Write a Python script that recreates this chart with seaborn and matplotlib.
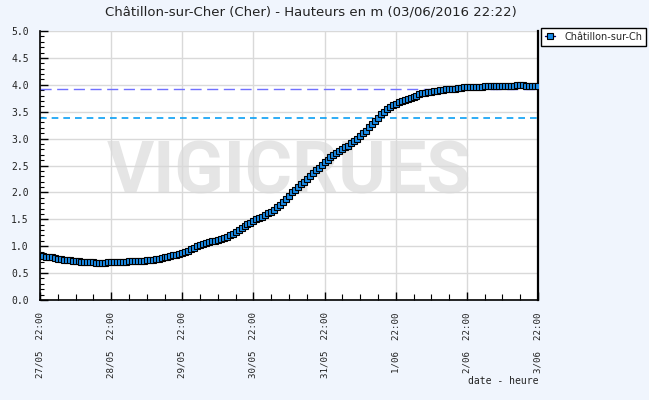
import pandas as pd
import numpy as np
import seaborn as sns
import matplotlib.pyplot as plt
import matplotlib.dates as mdates
from matplotlib.ticker import MultipleLocator, FuncFormatter, FormatStrFormatter

# hauteurs horaires (m), depuis le 27/05/2016 22:00
hauteurs = [
    0.82, 0.81, 0.80, 0.80, 0.79, 0.78, 0.77, 0.76, 0.75, 0.74, 0.74, 0.73,
    0.72, 0.72, 0.71, 0.71, 0.70, 0.70, 0.70, 0.69, 0.69, 0.69, 0.69, 0.70,
    0.70, 0.70, 0.70, 0.71, 0.71, 0.71, 0.72, 0.72, 0.72, 0.73, 0.73, 0.73,
    0.74, 0.75, 0.75, 0.76, 0.77, 0.78, 0.79, 0.80, 0.82, 0.83, 0.84, 0.86,
    0.87, 0.89, 0.91, 0.94, 0.97, 1.00, 1.03, 1.05, 1.06, 1.08, 1.09, 1.10,
    1.11, 1.13, 1.15, 1.17, 1.20, 1.23, 1.27, 1.30, 1.34, 1.37, 1.41, 1.44,
    1.47, 1.50, 1.52, 1.55, 1.58, 1.61, 1.64, 1.68, 1.72, 1.77, 1.82, 1.88,
    1.94, 2.00, 2.05, 2.10, 2.15, 2.20, 2.25, 2.31, 2.36, 2.41, 2.46, 2.51,
    2.56, 2.61, 2.65, 2.69, 2.73, 2.77, 2.80, 2.84, 2.87, 2.91, 2.95, 3.00,
    3.05, 3.10, 3.15, 3.21, 3.27, 3.33, 3.39, 3.45, 3.50, 3.55, 3.59, 3.62,
    3.65, 3.68, 3.70, 3.72, 3.74, 3.76, 3.78, 3.80, 3.82, 3.84, 3.85, 3.86,
    3.87, 3.88, 3.89, 3.90, 3.91, 3.92, 3.92, 3.93, 3.93, 3.94, 3.94, 3.95,
    3.95, 3.95, 3.96, 3.96, 3.96, 3.96, 3.97, 3.97, 3.97, 3.97, 3.97, 3.97,
    3.97, 3.98, 3.98, 3.98, 3.98, 3.99, 4.00, 3.99, 3.98, 3.98, 3.98, 3.98,
    3.98,
]
debut = '2016-05-27 22:00'
nb_jours = 7
seuil_1 = 3.93
seuil_2 = 3.38
station = 'Châtillon-sur-Ch'
titre = 'Châtillon-sur-Cher (Cher) - Hauteurs en m (03/06/2016 22:22)'

sns.set_theme(style='white')
plt.rcParams['font.family'] = ['DejaVu Sans']

df = pd.DataFrame({
    'date': pd.date_range(debut, periods=len(hauteurs), freq='h'),
    'hauteur': hauteurs,
})
jours = pd.date_range(debut, periods=nb_jours + 1, freq='D')

fond = '#f0f5fd'
fig = plt.figure(figsize=(6.49, 4.0), dpi=100, facecolor=fond)
ax = fig.add_axes([40 / 649, 0.25, 498 / 649, 269 / 400])
ax.set_facecolor('white')
ax.set_axisbelow(True)

# filigrane
ax.text(0.5, 0.47, 'VIGICRUES', transform=ax.transAxes, ha='center', va='center',
        fontsize=52, fontweight='bold', family='Roboto', color='#e5e5e5', zorder=0.2)

ax.axhline(seuil_1, color='#7070ff', lw=1, ls=(0, (8, 4)), zorder=2)
ax.axhline(seuil_2, color='#0aa0f5', lw=1.2, ls=(0, (4, 3)), zorder=2)

sns.lineplot(data=df, x='date', y='hauteur', ax=ax, color='#00006a', lw=1,
             marker='s', markersize=3.7, markerfacecolor='#1a8ce8',
             markeredgecolor='black', markeredgewidth=0.8, label=station,
             zorder=3)

ax.set_xlim(jours[0], jours[-1])
ax.set_ylim(0, 5)
ax.set_xlabel('')
ax.set_ylabel('')

ax.set_xticks(mdates.date2num(jours))
ax.xaxis.set_minor_locator(mdates.HourLocator(byhour=[4, 10, 16]))
ax.xaxis.set_major_formatter(FuncFormatter(
    lambda v, p: '{}/{:02d}  {:%H:%M}'.format(mdates.num2date(v).day,
                                               mdates.num2date(v).month,
                                               mdates.num2date(v))))
ax.yaxis.set_major_locator(MultipleLocator(0.5))
ax.yaxis.set_minor_locator(MultipleLocator(0.1))
ax.yaxis.set_major_formatter(FormatStrFormatter('%.1f'))

ax.grid(True, which='major', color='#d9d9d9', lw=1)
ax.tick_params(axis='both', which='both', direction='in', colors='black',
               labelcolor='#222222', bottom=True, left=True, top=False, right=False)
ax.tick_params(axis='y', which='major', length=6, width=1, pad=8, labelsize=7)
ax.tick_params(axis='y', which='minor', length=3, width=0.8)
ax.tick_params(axis='x', which='major', length=6, width=1, pad=9, labelrotation=90,
               labelsize=6.6)
ax.tick_params(axis='x', which='minor', length=4, width=0.8)
for lab in ax.get_xticklabels() + ax.get_yticklabels():
    lab.set_family('DejaVu Sans Mono')

for s in ['left', 'bottom']:
    ax.spines[s].set_color('black')
    ax.spines[s].set_linewidth(1.2)
ax.spines['right'].set_color('black')
ax.spines['right'].set_linewidth(1.6)
ax.spines['top'].set_visible(False)

leg = ax.legend(loc='upper left', bbox_to_anchor=(541 / 649, 1 - 28 / 400),
                bbox_transform=fig.transFigure, frameon=True, fancybox=False,
                fontsize=7, handlelength=1.0, handletextpad=1.0,
                borderpad=0.4, borderaxespad=0)
leg.get_frame().set_edgecolor('black')
leg.get_frame().set_linewidth(1)
leg.get_frame().set_facecolor('white')
leg.get_frame().set_alpha(1)

fig.text(311 / 649, 1 - 12 / 400, titre, ha='center', va='center',
         fontsize=9.5, color='#222222')
fig.text(538 / 649, 1 - 381 / 400, 'date - heure', ha='right', va='center',
         fontsize=7, family='DejaVu Sans Mono', color='#222222')

fig.savefig('out.png', dpi=100, facecolor=fond)
